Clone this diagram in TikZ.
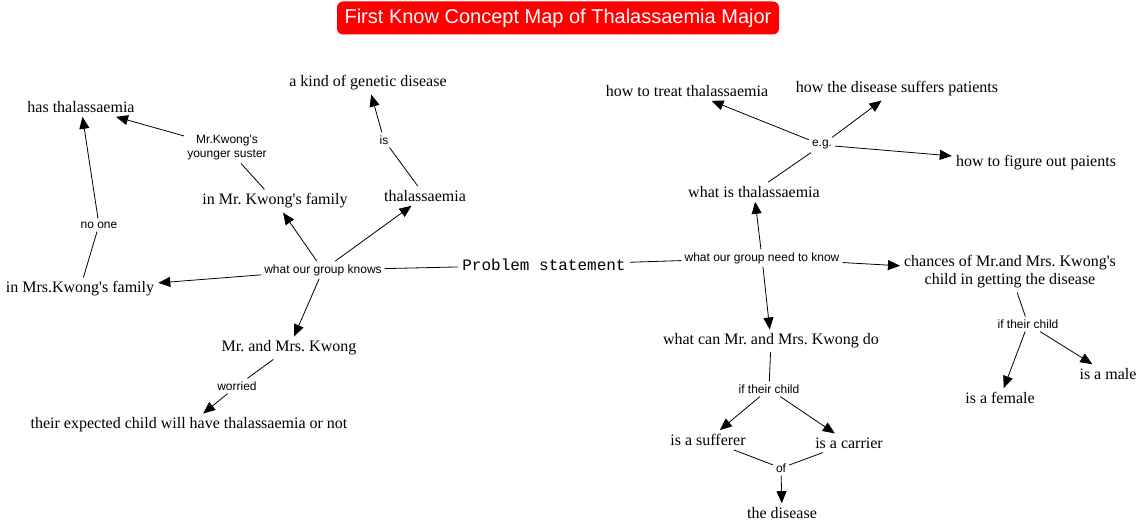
\documentclass[tikz,border=0pt]{standalone}
\usepackage{fontspec}
\setmainfont{Liberation Serif}
\setsansfont{Liberation Sans}
\setmonofont{Liberation Mono}
\usetikzlibrary{arrows.meta}
\newcommand{\apos}{\textquotesingle}
\frenchspacing

\begin{document}
\begin{tikzpicture}[
    x=1bp, y=-1bp,
    concept/.style={font=\fontsize{16bp}{18bp}\selectfont, inner sep=4bp, align=center},
    phrase/.style={font=\sffamily\fontsize{12bp}{14bp}\selectfont, inner sep=3bp, align=center},
    conn/.style={line width=0.8bp},
    arr/.style={conn, -{Triangle[length=12bp,width=10bp]}}
]
  \useasboundingbox (0,0) rectangle (1142,524);

  % Title
  \node[fill=red, rounded corners=6bp, text=white, font=\sffamily\fontsize{20bp}{22bp}\selectfont,
        minimum width=442bp, minimum height=33bp] (title) at (558,18) {First Know Concept Map of Thalassaemia Major};

  % Root
  \node[font=\ttfamily\fontsize{16bp}{18bp}\selectfont, inner sep=4bp] (problem) at (544,265) {Problem statement};

  % Left half: what we know
  \node[phrase] (knows) at (323,270) {what our group knows};
  \node[concept] (hasthal) at (81,107) {has thalassaemia};
  \node[concept] (genetic) at (368,83) {a kind of genetic disease};
  \node[phrase] (sister) at (227,148) {Mr.Kwong\apos s\\younger suster};
  \node[phrase] (is) at (384,140) {is};
  \node[concept] (mrfam) at (275,201) {in Mr. Kwong\apos s family};
  \node[concept] (thal) at (425,196) {thalassaemia};
  \node[phrase] (noone) at (99,225) {no one};
  \node[concept] (mrsfam) at (80,289) {in Mrs.Kwong\apos s family};
  \node[concept] (couple) at (289,348) {Mr. and Mrs. Kwong};
  \node[phrase] (worried) at (237,386) {worried};
  \node[concept] (expected) at (189,425) {their expected child will have thalassaemia or not};

  % Right half: what we need to know
  \node[phrase] (needs) at (762,258) {what our group need to know};
  \node[concept] (whatis) at (754,192) {what is thalassaemia};
  \node[phrase] (eg) at (822,145) {e.g.};
  \node[concept] (treat) at (687,91) {how to treat thalassaemia};
  \node[concept] (suffers) at (897,89) {how the disease suffers patients};
  \node[concept] (figure) at (1036,163) {how to figure out paients};
  \node[concept] (chances) at (1010,272) {chances of Mr.and Mrs. Kwong\apos s\\child in getting the disease};
  \node[phrase] (ifchildB) at (1028,324) {if their child};
  \node[concept] (female) at (1000,398) {is a female};
  \node[concept] (male) at (1108,374) {is a male};
  \node[concept] (cando) at (771,341) {what can Mr. and Mrs. Kwong do};
  \node[phrase] (ifchildA) at (769,389) {if their child};
  \node[concept] (sufferer) at (708,440) {is a sufferer};
  \node[concept] (carrier) at (849,443) {is a carrier};
  \node[phrase] (of) at (781,468) {of};
  \node[concept] (disease) at (782,513) {the disease};

  % Connectors, left
  \draw[conn] (problem) -- (knows);
  \draw[arr] (knows) -- (mrsfam);
  \draw[arr] (knows) -- (mrfam);
  \draw[arr] (knows) -- (thal);
  \draw[arr] (knows) -- (couple);
  \draw[conn] (mrfam) -- (sister);
  \draw[arr] (sister) -- (hasthal);
  \draw[conn] (thal) -- (is);
  \draw[arr] (is) -- (genetic);
  \draw[conn] (mrsfam) -- (noone);
  \draw[arr] (noone) -- (hasthal);
  \draw[conn] (couple) -- (worried);
  \draw[arr] (worried) -- (expected);

  % Connectors, right
  \draw[conn] (problem) -- (needs);
  \draw[arr] (needs) -- (whatis);
  \draw[arr] (needs) -- (chances);
  \draw[arr] (needs) -- (cando);
  \draw[conn] (whatis) -- (eg);
  \draw[arr] (eg) -- (treat);
  \draw[arr] (eg) -- (suffers);
  \draw[arr] (eg) -- (figure);
  \draw[conn] (chances) -- (ifchildB);
  \draw[arr] (ifchildB) -- (female);
  \draw[arr] (ifchildB) -- (male);
  \draw[conn] (cando) -- (ifchildA);
  \draw[arr] (ifchildA) -- (sufferer);
  \draw[arr] (ifchildA) -- (carrier);
  \draw[conn] (sufferer) -- (of);
  \draw[conn] (carrier) -- (of);
  \draw[arr] (of) -- (disease);

\end{tikzpicture}
\end{document}
